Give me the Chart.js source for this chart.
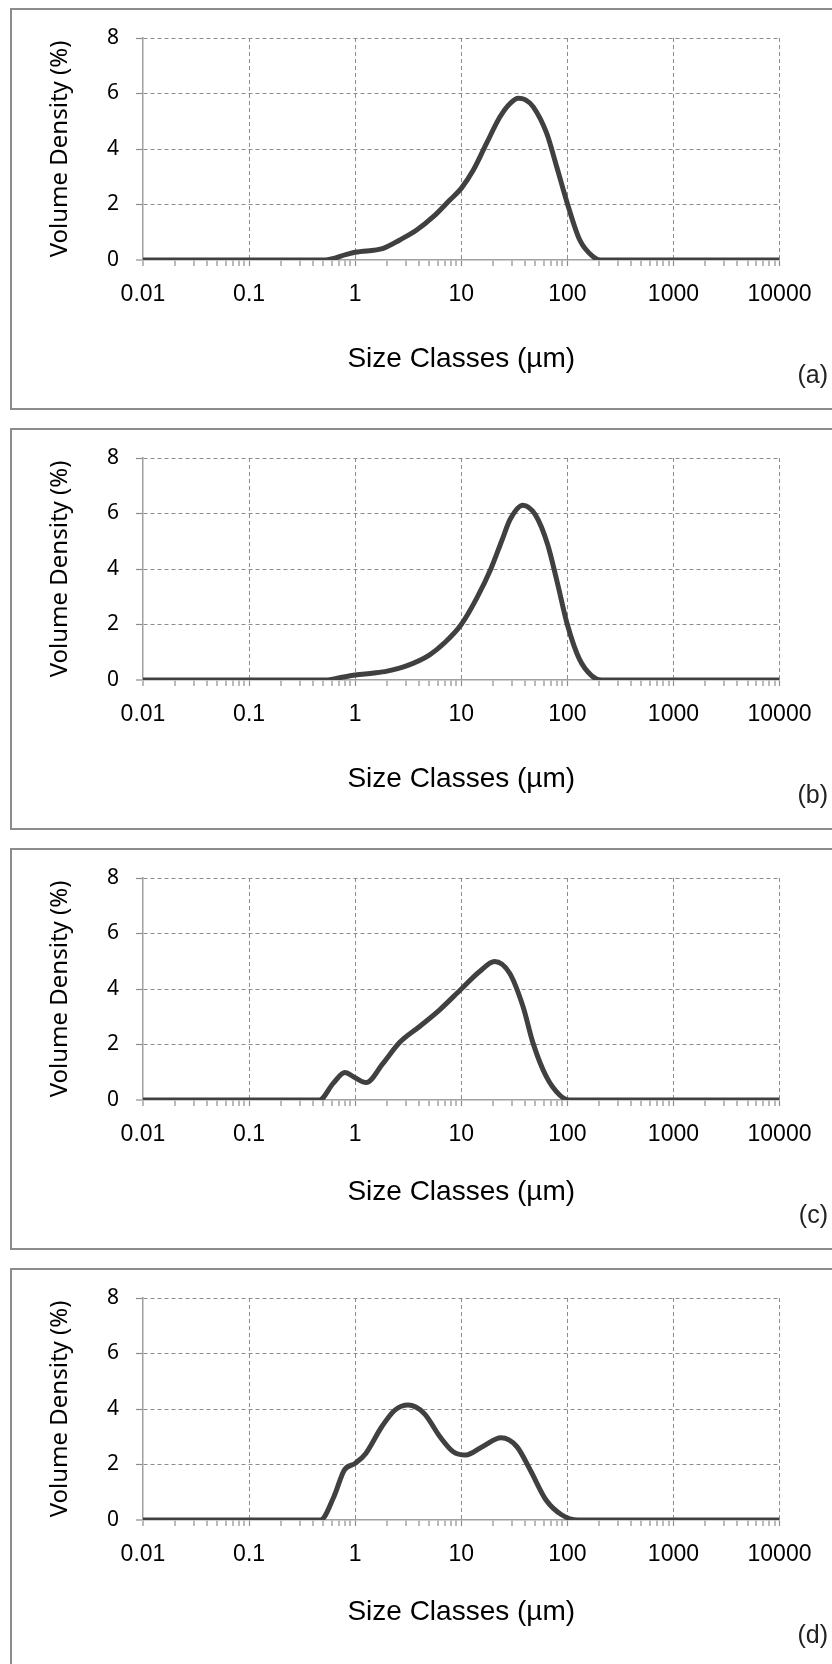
<!DOCTYPE html>
<html>
<head>
<meta charset="utf-8">
<script src="https://cdn.jsdelivr.net/npm/chart.js@4.4.1/dist/chart.umd.min.js"></script>
<style>
    html, body { margin: 0; padding: 0; width: 832px; height: 1664px; overflow: hidden; background: #fff; }
    .panel { position: absolute; left: 10px; width: 900px; height: 402px; border: 2px solid #8c8c8c; box-sizing: border-box; }
    canvas { position: absolute; left: 0; }
    .tag { position: absolute; right: 4px; height: 30px; line-height: 30px; font-family: "Liberation Sans", Arial, sans-serif; font-size: 25px; color: #222; }
</style>
</head>
<body>
<script>
// particle size (µm) and volume density (%)
const sizesA = [ 0.01, 0.52, 0.83, 1.0, 1.84, 2.63, 3.8, 5.45, 7.8, 10, 13, 17.3, 23.2, 29, 34.5, 40, 47.7, 63.8, 79.4, 100, 131, 175, 204, 10000 ];
const densityA = [ 0, 0, 0.2, 0.28, 0.42, 0.72, 1.08, 1.56, 2.16, 2.58, 3.24, 4.2, 5.16, 5.65, 5.83, 5.78, 5.52, 4.57, 3.36, 2.04, 0.72, 0.12, 0, 0 ];

const sizesB = [ 0.01, 0.52, 0.75, 1.0, 1.5, 2, 3, 5, 7, 10, 14, 19, 24, 29, 38, 50, 65, 80, 100, 130, 170, 210, 10000 ];
const densityB = [ 0, 0, 0.1, 0.18, 0.25, 0.32, 0.5, 0.9, 1.35, 2.0, 2.95, 4.0, 5.0, 5.8, 6.3, 5.95, 4.9, 3.55, 2.0, 0.75, 0.15, 0, 0 ];

const sizesC = [ 0.01, 0.46, 0.62, 0.8, 1.0, 1.27, 1.83, 2.62, 4.05, 6.26, 10, 14.9, 20.6, 28.6, 38.2, 47.5, 63.4, 84.6, 105, 10000 ];
const densityC = [ 0, 0, 0.6, 0.99, 0.8, 0.63, 1.32, 2.07, 2.65, 3.25, 4.0, 4.63, 4.99, 4.57, 3.37, 2.05, 0.84, 0.18, 0, 0 ];

const sizesD = [ 0.01, 0.47, 0.63, 0.79, 1.0, 1.26, 1.78, 2.37, 3.16, 4.47, 6.3, 8.4, 11, 15.8, 23.7, 33.5, 44.7, 63, 89, 126, 10000 ];
const densityD = [ 0, 0, 0.84, 1.8, 2.04, 2.4, 3.36, 3.96, 4.14, 3.84, 3.0, 2.46, 2.34, 2.64, 2.96, 2.64, 1.8, 0.72, 0.18, 0, 0 ];

const xDecades = [ 0.01, 0.1, 1, 10, 100, 1000, 10000 ];
const xTickLabels = [ "0.01", "0.1", "1", "10", "100", "1000", "10000" ];
const yTickValues = [ 0, 2, 4, 6, 8 ];
const panelTags = [ "(a)", "(b)", "(c)", "(d)" ];

(() => {
    "use strict";
    const panelTops = [ 8, 428, 848, 1268 ];
    const titleGaps = [ 32, 32, 39, 39 ];
    const series = [ [ sizesA, densityA ], [ sizesB, densityB ], [ sizesC, densityC ], [ sizesD, densityD ] ];

    // decades get a label and a grid line, 2..9 only a tick mark
    const xTicks = [];
    xDecades.forEach((d, k) => {
        xTicks.push({ value: d, major: true, decade: k });
        if (k < xDecades.length - 1) {
            for (let m = 2; m <= 9; m++) xTicks.push({ value: d * m, major: false });
        }
    });

    Chart.defaults.color = "#000";

    function makeConfig(sizes, density, titleGap) {
        return {
            type: "line",
            data: {
                datasets: [ {
                    data: sizes.map((s, i) => ({ x: s, y: density[i] })),
                    borderColor: "#404040",
                    borderWidth: 5,
                    pointRadius: 0,
                    cubicInterpolationMode: "monotone",
                    fill: false
                } ]
            },
            options: {
                responsive: false,
                animation: false,
                events: [],
                layout: {
                    padding: { left: 0, right: 52.5, top: 30, bottom: 0 }
                },
                plugins: {
                    legend: { display: false },
                    tooltip: { enabled: false }
                },
                scales: {
                    x: {
                        type: "logarithmic",
                        min: 0.01,
                        max: 10000,
                        afterBuildTicks: scale => {
                            scale.ticks = xTicks.map(t => Object.assign({}, t));
                        },
                        afterFit: scale => {
                            scale.height = 148;
                        },
                        ticks: {
                            autoSkip: false,
                            maxRotation: 0,
                            padding: 15,
                            font: { family: "'Liberation Sans', Arial, sans-serif", size: 23 },
                            callback: (v, i, t) => t[i].major ? xTickLabels[t[i].decade] : ""
                        },
                        grid: {
                            color: "#8c8c8c",
                            lineWidth: ctx => (ctx.tick && ctx.tick.major && ctx.index > 0) ? 1 : 0,
                            tickLength: 6,
                            tickWidth: 1.2,
                            tickColor: "#8c8c8c"
                        },
                        border: { color: "#a0a0a0", width: 1.5, dash: [ 4, 3 ] },
                        title: {
                            display: true,
                            text: "Size Classes (µm)",
                            font: { family: "'Liberation Sans', Arial, sans-serif", size: 28 },
                            padding: { top: 0, bottom: titleGap }
                        }
                    },
                    y: {
                        min: 0,
                        max: 8,
                        afterBuildTicks: scale => {
                            scale.ticks = yTickValues.map(v => ({ value: v }));
                        },
                        afterFit: scale => {
                            scale.width = 143;
                        },
                        ticks: {
                            padding: 17,
                            font: { family: "'Noto Sans', sans-serif", size: 21 }
                        },
                        grid: {
                            color: "#8c8c8c",
                            lineWidth: ctx => ctx.index === 0 ? 0 : 1,
                            tickLength: 7,
                            tickWidth: 1.2,
                            tickColor: "#8c8c8c"
                        },
                        border: { color: "#a0a0a0", width: 1.5, dash: [ 4, 3 ] },
                        title: {
                            display: true,
                            text: "Volume Density (%)",
                            font: { family: "'Noto Sans', sans-serif", size: 24 },
                            padding: { top: 46, bottom: 0 }
                        }
                    }
                }
            }
        };
    }

    series.forEach((s, i) => {
        const top = panelTops[i];
        const panel = document.createElement("div");
        panel.className = "panel";
        panel.style.top = top + "px";
        document.body.appendChild(panel);

        const canvas = document.createElement("canvas");
        canvas.width = 832;
        canvas.height = 400;
        canvas.style.top = top + "px";
        document.body.appendChild(canvas);

        const tag = document.createElement("div");
        tag.className = "tag";
        tag.style.top = (top + 30 + 321) + "px";
        tag.textContent = panelTags[i];
        document.body.appendChild(tag);

        new Chart(canvas, makeConfig(s[0], s[1], titleGaps[i]));
    });
})();
</script>
</body>
</html>
